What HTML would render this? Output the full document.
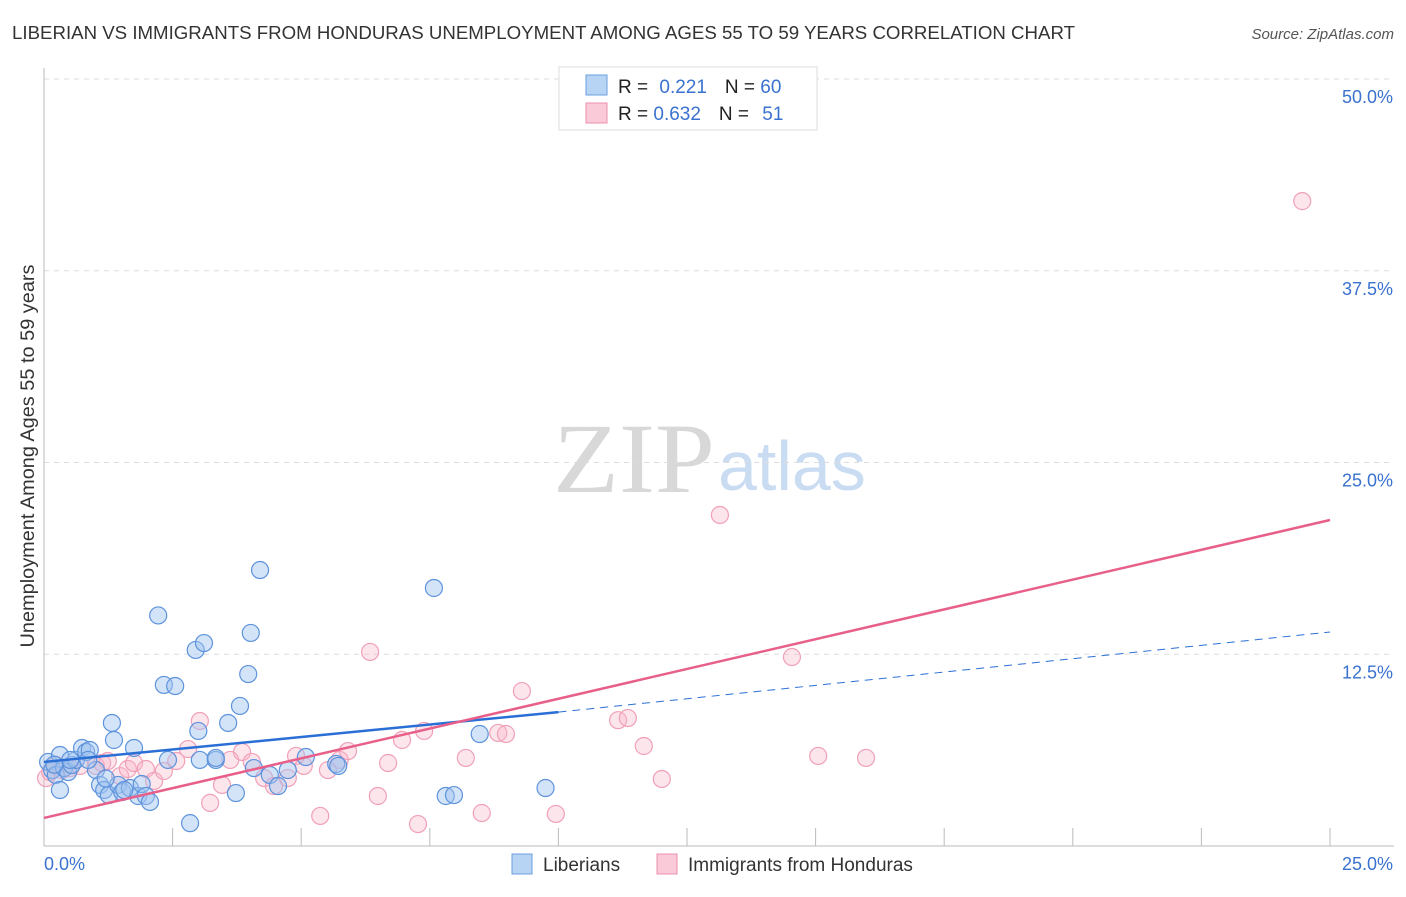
<!DOCTYPE html>
<html><head><meta charset="utf-8"><style>
body{margin:0;background:#fff;font-family:"Liberation Sans",sans-serif;}
</style></head><body>
<svg id="chart" width="1406" height="892" xmlns="http://www.w3.org/2000/svg" font-family="Liberation Sans, sans-serif">
<text x="12" y="39" font-size="18.5" fill="#333" textLength="1063" lengthAdjust="spacingAndGlyphs">LIBERIAN VS IMMIGRANTS FROM HONDURAS UNEMPLOYMENT AMONG AGES 55 TO 59 YEARS CORRELATION CHART</text>
<text x="1394" y="39" font-size="15" fill="#555" font-style="italic" text-anchor="end">Source: ZipAtlas.com</text>
<g>
<text x="553" y="492" font-size="100" fill="#d8d8d8" style="font-family:'Liberation Serif',serif" textLength="162" lengthAdjust="spacingAndGlyphs">ZIP</text>
<text x="718" y="490" font-size="70" fill="#c9dcf2">atlas</text>
</g>
<g id="grid"></g><g id="axes"></g><g id="pts"></g><g id="lines"></g>
<g>
<rect x="559" y="67" width="258" height="63" fill="#fff" stroke="#ddd"/>
<rect x="586" y="75" width="21" height="20" fill="#b8d4f5" stroke="#6a9fe0"/>
<rect x="586" y="103" width="21" height="20" fill="#fbcad8" stroke="#ee8fab"/>
<text x="618" y="93" font-size="19" fill="#222">R = <tspan fill="#3a72cf" dx="6">0.221</tspan><tspan dx="18" fill="#222">N = </tspan><tspan fill="#3a72cf">60</tspan></text>
<text x="618" y="120" font-size="19" fill="#222">R = <tspan fill="#3a72cf">0.632</tspan><tspan dx="18" fill="#222">N = </tspan><tspan fill="#3a72cf" dx="8">51</tspan></text>
</g>
<g>
<rect x="512" y="854" width="20" height="20" fill="#b8d4f5" stroke="#6a9fe0"/>
<text x="543" y="871" font-size="19" fill="#333">Liberians</text>
<rect x="657" y="854" width="20" height="20" fill="#fbcad8" stroke="#ee8fab"/>
<text x="688" y="871" font-size="19" fill="#333">Immigrants from Honduras</text>
</g>
<text transform="translate(34,456) rotate(-90)" font-size="19.5" fill="#333" text-anchor="middle" textLength="383" lengthAdjust="spacingAndGlyphs">Unemployment Among Ages 55 to 59 years</text>
</svg>
<script>
const yTicks=[12.5,25,37.5,50];
const yTickLabels=["12.5%","25.0%","37.5%","50.0%"];
const xTickVals=[0,2.5,5,7.5,10,12.5,15,17.5,20,22.5,25];
const xEndLabels=["0.0%","25.0%"];
const libX=[0.08,0.16,0.23,0.31,0.39,0.47,0.54,0.62,0.74,0.82,0.89,1.01,1.09,1.17,1.26,1.32,1.36,1.44,1.52,1.67,1.75,1.83,1.9,1.98,2.06,2.22,2.33,2.41,2.55,2.84,2.95,3.0,3.03,3.11,3.34,3.34,3.58,3.73,3.81,3.97,4.02,4.08,4.2,4.39,4.55,4.74,5.09,5.68,5.72,7.58,7.81,7.97,8.47,9.75,0.31,0.86,1.56,0.51,0.2,1.2];
const libY=[5.48,4.95,4.63,5.93,5.08,4.82,5.28,5.61,6.39,6.13,6.26,4.95,3.98,3.65,3.32,8.02,6.91,3.98,3.52,3.78,6.39,3.26,4.04,3.26,2.87,15.03,10.5,5.61,10.43,1.49,12.78,7.5,5.61,13.23,5.61,5.74,8.02,3.45,9.13,11.21,13.89,5.08,17.99,4.63,3.91,4.95,5.8,5.35,5.22,16.82,3.26,3.32,7.3,3.78,3.65,5.61,3.65,5.61,5.3,4.4];
const honX=[0.04,0.12,0.23,0.35,0.51,0.7,1.01,1.13,1.24,1.48,1.63,1.75,1.98,2.14,2.33,2.57,2.8,3.03,3.23,3.46,3.62,3.85,4.04,4.28,4.47,4.74,4.9,5.05,5.37,5.52,5.75,5.91,6.34,6.49,6.69,6.96,7.27,7.39,8.2,8.51,8.83,8.98,9.29,9.95,11.16,11.35,11.66,12.01,13.14,14.54,15.05,15.98,24.46];
const honY=[4.43,4.82,5.28,4.95,5.08,5.22,5.22,5.41,5.54,4.56,5.02,5.41,5.02,4.24,4.89,5.54,6.32,8.15,2.81,3.98,5.61,6.13,5.48,4.43,3.91,4.43,5.87,5.22,1.96,4.95,5.61,6.19,12.65,3.26,5.41,6.91,1.43,7.5,5.74,2.15,7.37,7.3,10.1,2.09,8.2,8.34,6.52,4.37,21.58,12.32,5.87,5.74,42.04];
const libTrend=[5.48,8.73,13.95];
const honTrend=[1.83,21.25];
const NS="http://www.w3.org/2000/svg";
const X0=44,X1=1330,Y0=846,Y50=79;
const sx=v=>X0+(v/25)*(X1-X0);
const sy=v=>Y0-(v/50)*(Y0-Y50);
function mk(tag,attrs,parent){const e=document.createElementNS(NS,tag);for(const k in attrs)e.setAttribute(k,attrs[k]);document.getElementById(parent).appendChild(e);return e;}
yTicks.forEach((t,i)=>{
 const g=mk('line',{x1:X0,x2:1394,y1:sy(t),y2:sy(t),stroke:'#ddd','stroke-dasharray':'5,5'},'grid');
 
 
 const l=mk('text',{x:1393,y:sy(t)+24,'font-size':18,fill:'#3a72cf','text-anchor':'end'},'axes');
 l.textContent=yTickLabels[i];
 
 
});
const ax=mk('line',{x1:X0,x2:X0,y1:68,y2:Y0,stroke:'#bbb'},'axes');


const bx=mk('line',{x1:X0,x2:1394,y1:Y0,y2:Y0,stroke:'#bbb'},'axes');


xTickVals.forEach(t=>{
 const tk=mk('line',{x1:sx(t),x2:sx(t),y1:Y0-18,y2:Y0,stroke:'#bbb'},'axes');
 
 
});
const xl0=mk('text',{x:44,y:870,'font-size':18,fill:'#3a72cf'},'axes');xl0.textContent=xEndLabels[0];


const xl1=mk('text',{x:1393,y:870,'font-size':18,fill:'#3a72cf','text-anchor':'end'},'axes');xl1.textContent=xEndLabels[1];


honX.forEach((v,i)=>{
 const c=mk('circle',{cx:sx(v),cy:sy(honY[i]),r:8.5,fill:'rgba(248,180,200,0.35)',stroke:'#f0a0b8','stroke-width':1.2},'pts');
 
 
});
libX.forEach((v,i)=>{
 const c=mk('circle',{cx:sx(v),cy:sy(libY[i]),r:8.5,fill:'rgba(160,195,240,0.45)',stroke:'#5d93dc','stroke-width':1.2},'pts');
 
 
});
const lb=mk('line',{x1:sx(0),y1:sy(libTrend[0]),x2:sx(10),y2:sy(libTrend[1]),stroke:'#2a6fd6','stroke-width':2.5},'lines');


const ld=mk('line',{x1:sx(10),y1:sy(libTrend[1]),x2:sx(25),y2:sy(libTrend[2]),stroke:'#2a6fd6','stroke-width':1,'stroke-dasharray':'8,6'},'lines');


const lh=mk('line',{x1:sx(0),y1:sy(honTrend[0]),x2:sx(25),y2:sy(honTrend[1]),stroke:'#e8608a','stroke-width':2.5},'lines');


</script>
</body></html>
